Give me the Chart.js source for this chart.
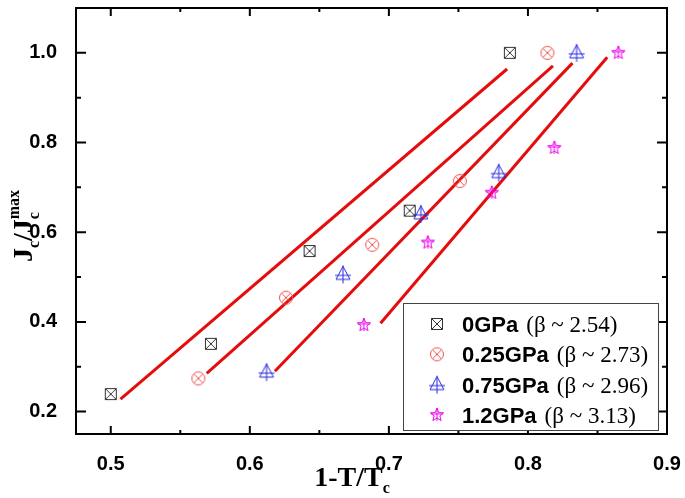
<!DOCTYPE html>
<html>
<head>
<meta charset="utf-8">
<script src="https://cdn.jsdelivr.net/npm/chart.js@4.4.0/dist/chart.umd.min.js"></script>
<style>
html, body { margin: 0; padding: 0; background: #fff; }
</style>
</head>
<body>
<canvas id="myChart" width="685" height="498"></canvas>
<script>
// data
const series = ['0GPa', '0.25GPa', '0.75GPa', '1.2GPa'];
const betas = ['2.54', '2.73', '2.96', '3.13'];

const x0 = [0.500, 0.572, 0.643, 0.715, 0.787];
const y0 = [0.239, 0.351, 0.558, 0.648, 1.000];
const x25 = [0.563, 0.626, 0.688, 0.751, 0.814];
const y25 = [0.274, 0.454, 0.572, 0.714, 1.000];
const x75 = [0.612, 0.667, 0.723, 0.779, 0.835];
const y75 = [0.288, 0.506, 0.641, 0.733, 1.000];
const x12 = [0.682, 0.728, 0.774, 0.819, 0.865];
const y12 = [0.393, 0.577, 0.688, 0.788, 1.000];

// fitted lines (end points)
const fitX0 = [0.507, 0.785], fitY0 = [0.228, 0.964];
const fitX25 = [0.569, 0.818], fitY25 = [0.285, 0.971];
const fitX75 = [0.618, 0.832], fitY75 = [0.290, 0.977];
const fitX12 = [0.694, 0.857], fitY12 = [0.397, 0.990];

const xTicks = [0.5, 0.6, 0.7, 0.8, 0.9];
const xMinor = [0.55, 0.65, 0.75, 0.85];
const yTicks = [0.2, 0.4, 0.6, 0.8, 1.0];
const yMinor = [0.3, 0.5, 0.7, 0.9];

const colors = ['#333333', 'rgb(240,80,80)', 'rgb(40,40,225)', 'rgb(235,0,235)'];
const fitColor = 'rgb(228,12,12)';

function pts(xs, ys) {
    return xs.map((v, i) => ({x: v, y: ys[i]}));
}

// marker images
function marker(kind, color) {
    const c = document.createElement('canvas');
    c.width = 20;
    c.height = 20;
    const g = c.getContext('2d');
    g.translate(10, 10);
    g.strokeStyle = color;
    g.lineWidth = 1;
    g.beginPath();
    if (kind === 'box') {
        g.rect(-5.5, -5.5, 11, 11);
        g.moveTo(-5.5, -5.5); g.lineTo(5.5, 5.5);
        g.moveTo(5.5, -5.5); g.lineTo(-5.5, 5.5);
    } else if (kind === 'circle') {
        g.arc(0, 0, 6.5, 0, Math.PI * 2);
        g.moveTo(-4.6, -4.6); g.lineTo(4.6, 4.6);
        g.moveTo(4.6, -4.6); g.lineTo(-4.6, 4.6);
    } else if (kind === 'tri') {
        g.moveTo(0, -8); g.lineTo(-7, 5); g.lineTo(7, 5); g.closePath();
        g.moveTo(0, -9); g.lineTo(0, 9);
        g.moveTo(-8, 1); g.lineTo(8, 1);
    } else {
        for (let k = 0; k < 10; k++) {
            const r = k % 2 ? 3 : 7;
            const a = -Math.PI / 2 + k * Math.PI / 5;
            if (k === 0) g.moveTo(r * Math.cos(a), r * Math.sin(a));
            else g.lineTo(r * Math.cos(a), r * Math.sin(a));
        }
        g.closePath();
        g.moveTo(0, -7); g.lineTo(0, 6);
        g.moveTo(-6, -1); g.lineTo(6, -1);
    }
    g.stroke();
    return c;
}

const markers = [
    marker('box', colors[0]),
    marker('circle', colors[1]),
    marker('tri', colors[2]),
    marker('star', colors[3]),
];

function pointSet(xs, ys, i) {
    return {
        data: pts(xs, ys),
        pointStyle: markers[i],
        pointRadius: 7,
        showLine: false,
        order: 0,
    };
}

function fitSet(xs, ys) {
    return {
        data: pts(xs, ys),
        showLine: true,
        pointRadius: 0,
        borderColor: fitColor,
        borderWidth: 3,
        order: 1,
    };
}

// text with sub / superscripts
function richText(ctx, parts, cx, baseY) {
    let total = 0, prevStart = 0, prevW = 0;
    const starts = [];
    parts.forEach(p => {
        ctx.font = p.font;
        const w = ctx.measureText(p.t).width;
        let start;
        if (p.stack) {
            start = prevStart;
            prevW = Math.max(prevW, w);
            total = Math.max(total, start + prevW);
        } else {
            start = total;
            total += w;
            prevW = w;
        }
        prevStart = start;
        starts.push(start);
    });
    ctx.textAlign = 'left';
    ctx.textBaseline = 'alphabetic';
    parts.forEach((p, i) => {
        ctx.font = p.font;
        ctx.fillText(p.t, cx - total / 2 + starts[i], baseY + (p.dy || 0));
    });
}

const big = 'bold 28px "Liberation Serif"';
const small = 'bold 16px "Liberation Serif"';

const decor = {
    id: 'decor',
    afterDraw(chart) {
        const {ctx, chartArea: a, scales: {x, y}} = chart;
        ctx.save();
        ctx.strokeStyle = '#000';
        ctx.lineWidth = 2;
        ctx.beginPath();
        xTicks.concat(xMinor).forEach(v => {
            const px = x.getPixelForValue(v);
            const len = xTicks.includes(v) ? 8 : 4;
            ctx.moveTo(px, a.bottom); ctx.lineTo(px, a.bottom - len);
            ctx.moveTo(px, a.top); ctx.lineTo(px, a.top + len);
        });
        yTicks.concat(yMinor).forEach(v => {
            const py = y.getPixelForValue(v);
            const len = yTicks.includes(v) ? 10 : 5;
            ctx.moveTo(a.left, py); ctx.lineTo(a.left + len, py);
            ctx.moveTo(a.right, py); ctx.lineTo(a.right - len, py);
        });
        ctx.stroke();
        ctx.strokeRect(a.left, a.top, a.right - a.left, a.bottom - a.top);

        // legend
        ctx.fillStyle = '#fff';
        ctx.fillRect(403, 303, 255, 127);
        ctx.lineWidth = 1;
        ctx.strokeStyle = '#444';
        ctx.strokeRect(403.5, 303.5, 255, 127);
        ctx.fillStyle = '#000';
        ctx.textAlign = 'left';
        ctx.textBaseline = 'alphabetic';
        series.forEach((s, i) => {
            const ry = 324 + i * 30.3;
            ctx.drawImage(markers[i], 437 - 10, ry - 10);
            ctx.font = 'bold 22px "Liberation Sans"';
            ctx.fillText(s, 462, ry + 8);
            const w = ctx.measureText(s).width;
            ctx.font = '23px "Liberation Serif"';
            ctx.fillText('(\u03b2 ~ ' + betas[i] + ')', 462 + w + 8, ry + 8);
        });

        // axis titles
        richText(ctx, [
            {t: '1-T/T', font: big},
            {t: 'c', font: small, dy: 7},
        ], 352, 486);

        ctx.translate(32, 226);
        ctx.rotate(-Math.PI / 2);
        richText(ctx, [
            {t: 'J', font: big},
            {t: 'c', font: small, dy: 7},
            {t: '/', font: big},
            {t: 'J', font: big},
            {t: 'c', font: small, dy: 7},
            {t: 'max', font: small, dy: -13, stack: true},
        ], 0, 0);
        ctx.restore();
    }
};

const tickFont = {family: 'Liberation Sans', size: 20, weight: 'bold'};

const config = {
    type: 'scatter',
    data: {
        datasets: [
            pointSet(x0, y0, 0),
            pointSet(x25, y25, 1),
            pointSet(x75, y75, 2),
            pointSet(x12, y12, 3),
            fitSet(fitX0, fitY0),
            fitSet(fitX25, fitY25),
            fitSet(fitX75, fitY75),
            fitSet(fitX12, fitY12),
        ]
    },
    options: {
        responsive: false,
        animation: false,
        layout: {padding: {top: 4, right: 18, left: 0, bottom: 0}},
        scales: {
            x: {
                type: 'linear',
                min: 0.475,
                max: 0.9,
                grid: {display: false},
                border: {display: false},
                ticks: {
                    font: tickFont,
                    color: '#000',
                    padding: 10,
                    maxRotation: 0,
                    autoSkip: false,
                    callback: v => v.toFixed(1)
                },
                afterBuildTicks: s => { s.ticks = xTicks.map(v => ({value: v})); },
                afterFit: s => { s.height = 64; s.paddingLeft = 0; s.paddingRight = 0; }
            },
            y: {
                type: 'linear',
                min: 0.15,
                max: 1.1,
                grid: {display: false},
                border: {display: false},
                ticks: {
                    font: tickFont,
                    color: '#000',
                    padding: 11,
                    autoSkip: false,
                    callback: v => v.toFixed(1)
                },
                afterBuildTicks: s => { s.ticks = yTicks.map(v => ({value: v})); },
                afterFit: s => { s.width = 76; s.paddingTop = 0; s.paddingBottom = 0; }
            }
        },
        plugins: {
            legend: {display: false},
            tooltip: {enabled: false}
        }
    },
    plugins: [decor]
};

const myChart = new Chart(document.getElementById('myChart'), config);
</script>
</body>
</html>
